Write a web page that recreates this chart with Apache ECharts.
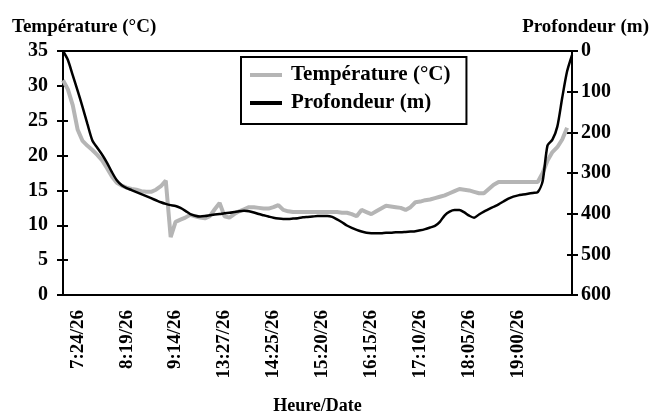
<!DOCTYPE html>
<html lang="fr">
<head>
  <meta charset="UTF-8">
  <title>Température / Profondeur</title>
  <script src="https://cdn.jsdelivr.net/npm/echarts@6/dist/echarts.min.js"></script>
</head>
<body style="margin:0">
<div id="main" style="width:661px;height:415px"></div>
<script>
  // tick labels shown every 10 points, starting at point 3
  var tickLabels = ['7:24/26','8:19/26','9:14/26','13:27/26','14:25/26','15:20/26','16:15/26','17:10/26','18:05/26','19:00/26'];

  var temperature = [
    30.8,29.5,27.2,23.7,22.1,21.4,20.8,20.1,19.3,18.2,
    17.0,16.1,15.7,15.4,15.2,15.1,14.9,14.8,14.8,15.1,
    15.6,16.4,8.3,10.5,10.8,11.1,11.5,11.3,11.1,11.0,
    11.3,12.3,13.2,11.3,11.1,11.6,12.0,12.3,12.6,12.6,
    12.5,12.4,12.4,12.6,12.9,12.2,12.0,11.9,11.9,11.9,
    11.9,11.9,11.9,11.9,11.9,11.9,11.9,11.8,11.8,11.6,
    11.3,12.2,11.9,11.6,12.0,12.4,12.8,12.7,12.6,12.5,
    12.2,12.6,13.3,13.4,13.6,13.7,13.9,14.1,14.3,14.6,
    14.9,15.2,15.1,15.0,14.8,14.6,14.6,15.2,15.8,16.2,
    16.2,16.2,16.2,16.2,16.2,16.2,16.2,16.2,17.5,19.3,
    20.5,21.2,22.3,24.0,null
  ];

  var profondeur = [
    0,22,60,98,138,180,220,238,255,275,
    298,318,330,337,342,347,352,357,362,367,
    372,376,379,381,386,393,401,405,407,406,
    404,402,401,399,398,396,394,393,394,397,
    401,404,407,410,412,413,413,412,411,409,
    408,407,406,406,406,408,414,421,429,435,
    440,444,447,448,448,448,447,447,446,446,
    445,444,443,441,438,434,430,420,404,395,
    391,391,397,405,410,402,395,389,383,377,
    370,363,358,355,353,351,349,347,320,232,
    218,186,115,50,10
  ];

  var categories = [];
  for (var i = 0; i < temperature.length; i++) {
    var k = (i - 3) / 10;
    categories.push((i - 3) % 10 === 0 && k >= 0 && k < tickLabels.length ? tickLabels[k] : '');
  }

  var font = 'Liberation Serif';
  var txt = {color:'#000', fontFamily:font, fontWeight:'bold'};
  var tick = {color:'#000', width:2};

  // hidden axes only draw the inner half of the crossing ticks
  function innerTicks(pos, max, step, inv) {
    return {
      type:'value', min:0, max:max, interval:step, position:pos, inverse:inv,
      axisLine:{show:false}, axisLabel:{show:false}, splitLine:{show:false},
      axisTick:{show:true, inside:true, length:5, lineStyle:tick}
    };
  }

  var chart = echarts.init(document.getElementById('main'));
  chart.setOption({
    animation:false,
    backgroundColor:'#fff',
    title:[
      {text:'Température (°C)', left:7, top:13, textStyle:Object.assign({fontSize:19}, txt)},
      {text:'Profondeur (m)', right:7, top:13, textStyle:Object.assign({fontSize:19}, txt)}
    ],
    legend:{
      orient:'vertical', left:241, top:57,
      data:['Température (°C)','Profondeur (m)'],
      icon:'rect', itemWidth:32, itemHeight:4, itemGap:6,
      borderColor:'#000', borderWidth:2, padding:[7,16,10,9],
      textStyle:Object.assign({fontSize:21, lineHeight:22, padding:[0,0,0,4]}, txt)
    },
    grid:{left:63, right:89, top:51, bottom:120, outerBoundsMode:'none', containLabel:false,
      show:true, borderColor:'#000', borderWidth:2},
    xAxis:{
      type:'category', data:categories, boundaryGap:false,
      name:'Heure/Date', nameLocation:'middle', nameGap:102,
      nameTextStyle:Object.assign({fontSize:18}, txt),
      axisLine:{lineStyle:{color:'#000', width:2}},
      axisTick:{show:false},
      axisLabel:Object.assign({interval:0, rotate:90, fontSize:19, margin:15}, txt),
      splitLine:{show:false}
    },
    yAxis:[{
      type:'value', min:0, max:35, interval:5, position:'left',
      axisLine:{show:true, lineStyle:{color:'#000', width:2}},
      axisTick:{show:true, length:6, lineStyle:tick},
      axisLabel:Object.assign({fontSize:20, margin:15}, txt),
      splitLine:{show:false}
    },{
      type:'value', min:0, max:600, interval:100, position:'right', inverse:true,
      axisLine:{show:true, lineStyle:{color:'#000', width:2}},
      axisTick:{show:true, length:6, lineStyle:tick},
      axisLabel:Object.assign({fontSize:20, margin:9}, txt),
      splitLine:{show:false}
    },
      innerTicks('left', 35, 5, false),
      innerTicks('right', 600, 100, true)
    ],
    series:[{
      name:'Température (°C)', type:'line', yAxisIndex:0,
      data:temperature, showSymbol:false, symbol:'none',
      lineStyle:{color:'#b5b5b5', width:4}, itemStyle:{color:'#b5b5b5'}
    },{
      name:'Profondeur (m)', type:'line', yAxisIndex:1,
      data:profondeur, showSymbol:false, symbol:'none', smooth:0.25,
      lineStyle:{color:'#000', width:2.5}, itemStyle:{color:'#000'}
    }]
  });
</script>
</body>
</html>
